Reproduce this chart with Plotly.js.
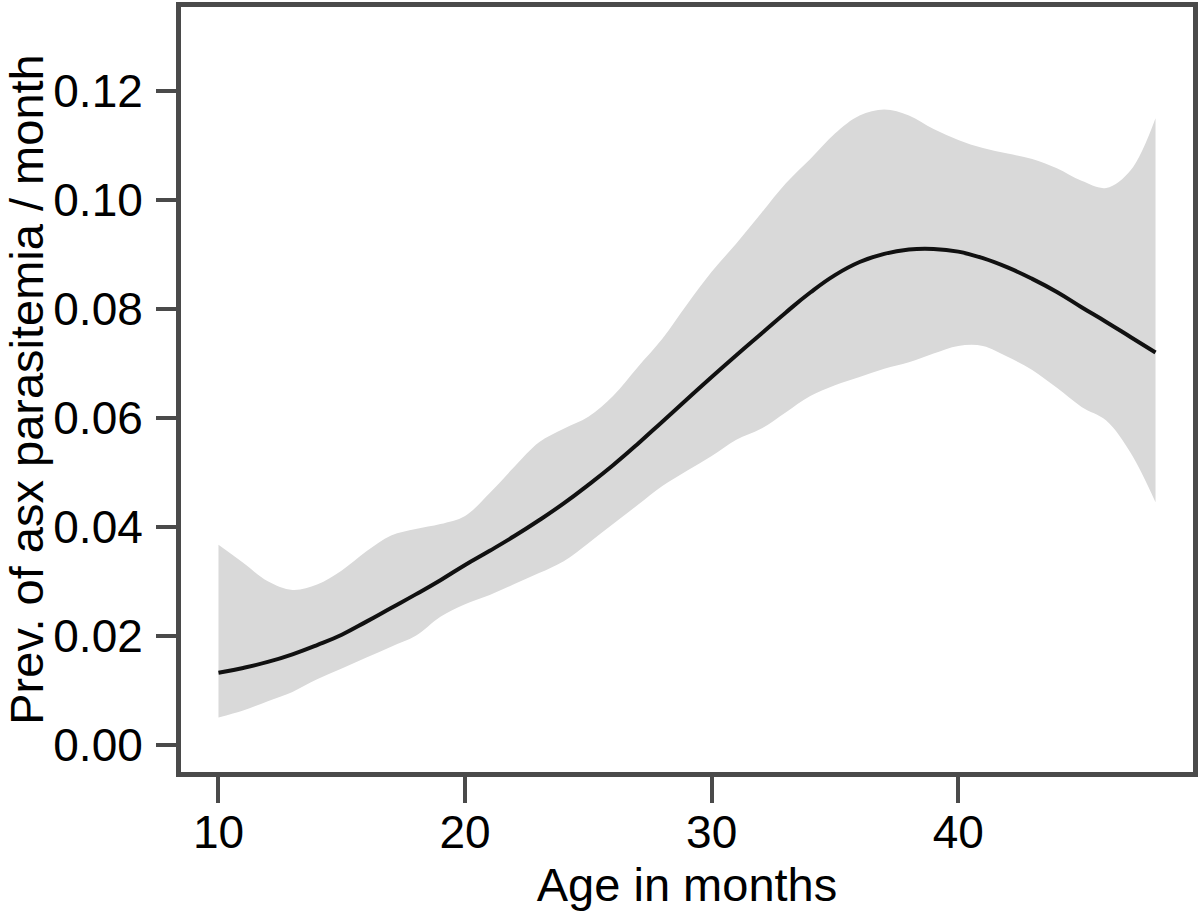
<!DOCTYPE html>
<html>
<head>
<meta charset="utf-8">
<script src="https://cdn.plot.ly/plotly-3.0.1.min.js"></script>
<style>
  html, body { margin: 0; padding: 0; background: #fff; }
  #chart { width: 1200px; height: 923px; }
</style>
</head>
<body>
<div id="chart"></div>
<script>
// Age in months
const ageMonths = [10,11,12,13,14,15,16,17,18,19,20,21,22,23,24,25,26,27,28,29,
                   30,31,32,33,34,35,36,37,38,39,40,41,42,43,44,45,46,47,48];
// Fitted prevalence of asymptomatic parasitemia per month
const prevFit = [0.0132,0.0141,0.0152,0.0166,0.0183,0.0202,0.0226,0.0251,0.0276,0.0302,
                 0.0330,0.0356,0.0383,0.0412,0.0443,0.0477,0.0513,0.0552,0.0593,0.0634,
                 0.0675,0.0715,0.0754,0.0793,0.0830,0.0862,0.0886,0.0901,0.0909,0.0910,
                 0.0905,0.0893,0.0876,0.0855,0.0831,0.0803,0.0776,0.0748,0.0720];
// Upper confidence bound
const prevUpper = [0.0367,0.0334,0.0300,0.0284,0.0294,0.0320,0.0355,0.0384,0.0396,0.0405,
                   0.0420,0.0462,0.0510,0.0555,0.0580,0.0602,0.0640,0.0693,0.0745,0.0808,
                   0.0868,0.0920,0.0975,0.1030,0.1075,0.1122,0.1155,0.1166,0.1155,0.1130,
                   0.1110,0.1095,0.1085,0.1075,0.1058,0.1035,0.1022,0.1055,0.1150];
// Lower confidence bound
const prevLower = [0.0050,0.0063,0.0080,0.0097,0.0120,0.0140,0.0160,0.0180,0.0200,0.0235,
                   0.0258,0.0275,0.0295,0.0315,0.0337,0.0370,0.0405,0.0440,0.0475,0.0503,
                   0.0530,0.0560,0.0580,0.0610,0.0640,0.0660,0.0675,0.0690,0.0702,0.0718,
                   0.0732,0.0732,0.0712,0.0688,0.0655,0.0620,0.0595,0.0535,0.0445];
const xTicks = [10, 20, 30, 40];
const yTicks = [0.00, 0.02, 0.04, 0.06, 0.08, 0.10, 0.12];
const yTickText = ['0.00','0.02','0.04','0.06','0.08','0.10','0.12'];

const FONT = 'Liberation Sans, Arial, Helvetica, sans-serif';
const AXC = '#4a4a4a';

const traces = [
  { x: ageMonths, y: prevLower, mode: 'lines', line: {width: 0, color: 'rgba(0,0,0,0)', shape: 'spline'},
    hoverinfo: 'skip', showlegend: false },
  { x: ageMonths, y: prevUpper, mode: 'lines', fill: 'tonexty', fillcolor: '#d9d9d9',
    line: {width: 0, color: 'rgba(0,0,0,0)', shape: 'spline'}, hoverinfo: 'skip', showlegend: false },
  { x: ageMonths, y: prevFit, mode: 'lines', line: {color: '#111111', width: 4, shape: 'spline', smoothing: 1.3},
    showlegend: false }
];

const layout = {
  width: 1200, height: 923,
  margin: {l: 181, r: 7, t: 7, b: 151},
  paper_bgcolor: '#ffffff', plot_bgcolor: '#ffffff',
  font: {family: FONT, color: '#000', size: 46},
  xaxis: {
    range: [8.48, 49.52], tickvals: xTicks, ticktext: xTicks.map(String),
    showgrid: false, zeroline: false,
    showline: true, mirror: true, linecolor: AXC, linewidth: 5,
    ticks: 'outside', ticklen: 26, tickwidth: 4, tickcolor: AXC,
    ticklabelstandoff: -10,
    tickfont: {family: FONT, size: 46, color: '#000'},
    title: {text: 'Age in months', font: {family: FONT, size: 47, color: '#000'}, standoff: 0}
  },
  yaxis: {
    range: [-0.005, 0.1354], tickvals: yTicks, ticktext: yTickText,
    showgrid: false, zeroline: false,
    showline: true, mirror: true, linecolor: AXC, linewidth: 5,
    ticks: 'outside', ticklen: 20, tickwidth: 4, tickcolor: AXC,
    ticklabelstandoff: 4,
    tickfont: {family: FONT, size: 46, color: '#000'},
    title: {text: 'Prev. of asx parasitemia / month', font: {family: FONT, size: 47, color: '#000'}, standoff: 8}
  }
};

Plotly.newPlot('chart', traces, layout, {staticPlot: true, displayModeBar: false});
</script>
</body>
</html>
